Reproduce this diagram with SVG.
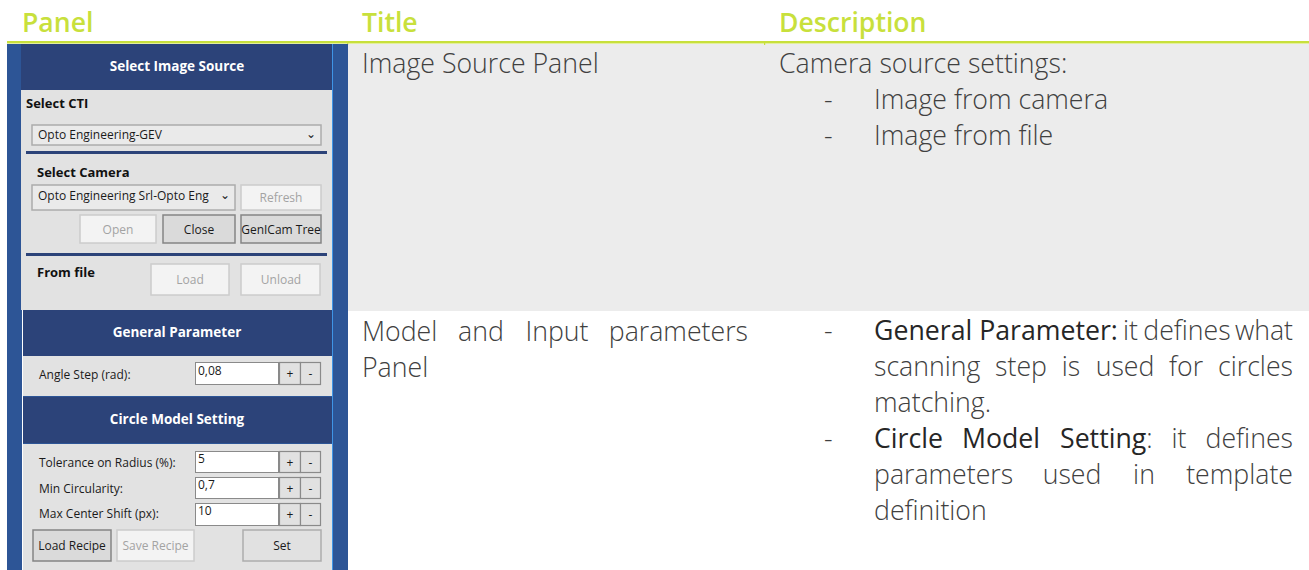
<svg xmlns="http://www.w3.org/2000/svg" width="1309" height="570" viewBox="0 0 1309 570">
<style>
.hd{font-family:"Open Sans","Noto Sans",sans-serif;font-weight:600;font-size:26.6px;fill:#c8e03c}
.bd{font-family:"Open Sans","Noto Sans",sans-serif;font-weight:300;font-size:26.7px;fill:#404040}
.bb{font-family:"Open Sans","Noto Sans",sans-serif;font-weight:400;font-size:26.7px;fill:#262626}
.ui{font-family:"Open Sans","Noto Sans",sans-serif;font-size:12px;fill:#1a1a1a}
.uib{font-family:"Open Sans","Noto Sans",sans-serif;font-size:13px;font-weight:700;fill:#111}
.uih{font-family:"Open Sans","Noto Sans",sans-serif;font-size:13.5px;font-weight:700;fill:#fff}
.dis{fill:#a3a3a3}
.btn{fill:#e1e1e1;stroke:#adadad;stroke-width:1.5}
.btnf{fill:#dadada;stroke:#858585;stroke-width:1.5}
.btnd{fill:#f3f3f3;stroke:#cccccc;stroke-width:1.5}
.cmb{fill:#eaeaea;stroke:#acacac;stroke-width:1.5}
.tb{fill:#fff;stroke:#8a8a8a;stroke-width:1}
.pm{fill:#e1e1e1;stroke:#8a8a8a;stroke-width:1.2}
.hdr{fill:#2c4379}
.gry{fill:#e2e2e2}
.sep{fill:#2c4379}
.m{text-anchor:middle}
.e{text-anchor:end}
</style>
<rect x="0" y="0" width="1309" height="570" fill="#fff"/>
<rect x="348" y="44" width="961" height="267" fill="#ececec"/>
<g id="header">
<rect x="7" y="41" width="1302" height="2.5" fill="#c8e03c"/>
<rect x="347" y="43" width="1.2" height="2" fill="#c8e03c"/>
<rect x="764" y="43" width="1.2" height="2" fill="#c8e03c"/>
<text class="hd" x="22" y="32">Panel</text>
<text class="hd" x="362" y="32">Title</text>
<text class="hd" x="779" y="32">Description</text>
</g>
<g id="panel-frame">
<rect x="7" y="44" width="341" height="526" fill="#2d5596"/>
<rect x="332" y="44" width="1" height="526" fill="#3f95e6"/>
</g>
<g id="image-source-panel">
<rect class="hdr" x="21" y="44" width="311" height="46"/>
<text class="uih m" x="177" y="71">Select Image Source</text>
<rect class="gry" x="21" y="90" width="311" height="220"/>
<text class="uib" x="26" y="108">Select CTI</text>
<rect class="cmb" x="32" y="125" width="289" height="20"/>
<text class="ui" x="38" y="139">Opto Engineering-GEV</text>
<text class="ui m" x="311" y="138" font-size="9" fill="#555">⌄</text>
<rect class="sep" x="26" y="151" width="301" height="3"/>
<text class="uib" x="37" y="177">Select Camera</text>
<rect class="cmb" x="32" y="185" width="203" height="25"/>
<text class="ui" x="38" y="200">Opto Engineering Srl-Opto Eng</text>
<text class="ui m" x="225" y="199" font-size="9" fill="#555">⌄</text>
<rect class="btnd" x="241" y="185" width="80" height="25"/>
<text class="ui dis m" x="281" y="202">Refresh</text>
<rect class="btnd" x="80" y="215" width="76" height="28"/>
<text class="ui dis m" x="118" y="234">Open</text>
<rect class="btnf" x="163" y="215" width="72" height="28"/>
<text class="ui m" x="199" y="234">Close</text>
<rect class="btnf" x="241" y="215" width="80" height="28"/>
<text class="ui m" x="281" y="234" font-size="11.6">GenICam Tree</text>
<rect class="sep" x="26" y="253" width="301" height="3"/>
<text class="uib" x="37" y="277">From file</text>
<rect class="btnd" x="151" y="264" width="78" height="31"/>
<text class="ui dis m" x="190" y="284">Load</text>
<rect class="btnd" x="241" y="264" width="79" height="31"/>
<text class="ui dis m" x="281" y="284">Unload</text>
</g>
<g id="parameters-panel">
<rect x="22" y="310" width="1" height="260" fill="#fff"/>
<rect class="hdr" x="23" y="310" width="309" height="46"/>
<text class="uih m" x="177" y="337">General Parameter</text>
<rect class="gry" x="23" y="356" width="309" height="40"/>
<text class="ui" x="39" y="379">Angle Step (rad):</text>
<rect class="tb" x="195.5" y="362.5" width="83" height="22"/>
<text class="ui" x="198" y="375">0,08</text>
<rect class="pm" x="279.5" y="362.5" width="21" height="22"/>
<text class="ui m" x="290" y="378">+</text>
<rect class="pm" x="300.5" y="362.5" width="20" height="22"/>
<text class="ui m" x="310.5" y="378">-</text>
<rect class="hdr" x="23" y="397" width="309" height="46"/>
<text class="uih m" x="177" y="424">Circle Model Setting</text>
<rect class="gry" x="23" y="444" width="309" height="126"/>
<text class="ui" x="39" y="467">Tolerance on Radius (%):</text>
<rect class="tb" x="195.5" y="451.5" width="83" height="21"/>
<text class="ui" x="198" y="463">5</text>
<rect class="pm" x="279.5" y="451.5" width="21" height="21"/>
<text class="ui m" x="290" y="467">+</text>
<rect class="pm" x="300.5" y="451.5" width="20" height="21"/>
<text class="ui m" x="310.5" y="467">-</text>
<text class="ui" x="39" y="493">Min Circularity:</text>
<rect class="tb" x="195.5" y="477.5" width="83" height="21"/>
<text class="ui" x="198" y="489">0,7</text>
<rect class="pm" x="279.5" y="477.5" width="21" height="21"/>
<text class="ui m" x="290" y="493">+</text>
<rect class="pm" x="300.5" y="477.5" width="20" height="21"/>
<text class="ui m" x="310.5" y="493">-</text>
<text class="ui" x="39" y="518">Max Center Shift (px):</text>
<rect class="tb" x="195.5" y="503.5" width="83" height="22"/>
<text class="ui" x="198" y="515">10</text>
<rect class="pm" x="279.5" y="503.5" width="21" height="22"/>
<text class="ui m" x="290" y="519">+</text>
<rect class="pm" x="300.5" y="503.5" width="20" height="22"/>
<text class="ui m" x="310.5" y="519">-</text>
<rect class="btnf" x="33" y="530" width="78" height="31"/>
<text class="ui m" x="72" y="550">Load Recipe</text>
<rect class="btnd" x="117" y="530" width="77" height="31"/>
<text class="ui dis m" x="155.5" y="550">Save Recipe</text>
<rect class="btn" x="243" y="530" width="78" height="31"/>
<text class="ui m" x="282" y="550">Set</text>
</g>
<g id="row1-title"><text class="bd" x="362" y="73">Image Source Panel</text></g>
<g id="row1-desc">
<text class="bd" x="779" y="73">Camera source settings:</text>
<text class="bd" x="824" y="109">-</text>
<text class="bd" x="874" y="109">Image from camera</text>
<text class="bd" x="824" y="145">-</text>
<text class="bd" x="874" y="145">Image from file</text>
</g>
<g id="row2-title">
<text class="bd" x="362" y="341">Model</text>
<text class="bd m" x="481" y="341">and</text>
<text class="bd m" x="557" y="341">Input</text>
<text class="bd e" x="748" y="341">parameters</text>
<text class="bd" x="362" y="377">Panel</text>
</g>
<g id="row2-desc">
<text class="bd" x="824" y="340">-</text>
<text class="bb" x="874" y="340" font-size="25.4">General Parameter:</text>
<text class="bd" x="1123" y="340">it</text>
<text class="bd m" x="1187" y="340">defines</text>
<text class="bd e" x="1293" y="340">what</text>
<text class="bd" x="874" y="376">scanning</text>
<text class="bd m" x="1021" y="376">step</text>
<text class="bd m" x="1071" y="376">is</text>
<text class="bd m" x="1125" y="376">used</text>
<text class="bd m" x="1186" y="376">for</text>
<text class="bd e" x="1293" y="376">circles</text>
<text class="bd" x="874" y="412">matching.</text>
<text class="bd" x="824" y="448">-</text>
<text class="bb" x="874" y="448">Circle</text>
<text class="bb m" x="1001" y="448">Model</text>
<text class="bb" x="1060" y="448">Setting<tspan class="bd">:</tspan></text>
<text class="bd m" x="1179" y="448">it</text>
<text class="bd e" x="1293" y="448">defines</text>
<text class="bd" x="874" y="484">parameters</text>
<text class="bd m" x="1072" y="484">used</text>
<text class="bd m" x="1144" y="484">in</text>
<text class="bd e" x="1293" y="484">template</text>
<text class="bd" x="874" y="520">definition</text>
</g>
</svg>
